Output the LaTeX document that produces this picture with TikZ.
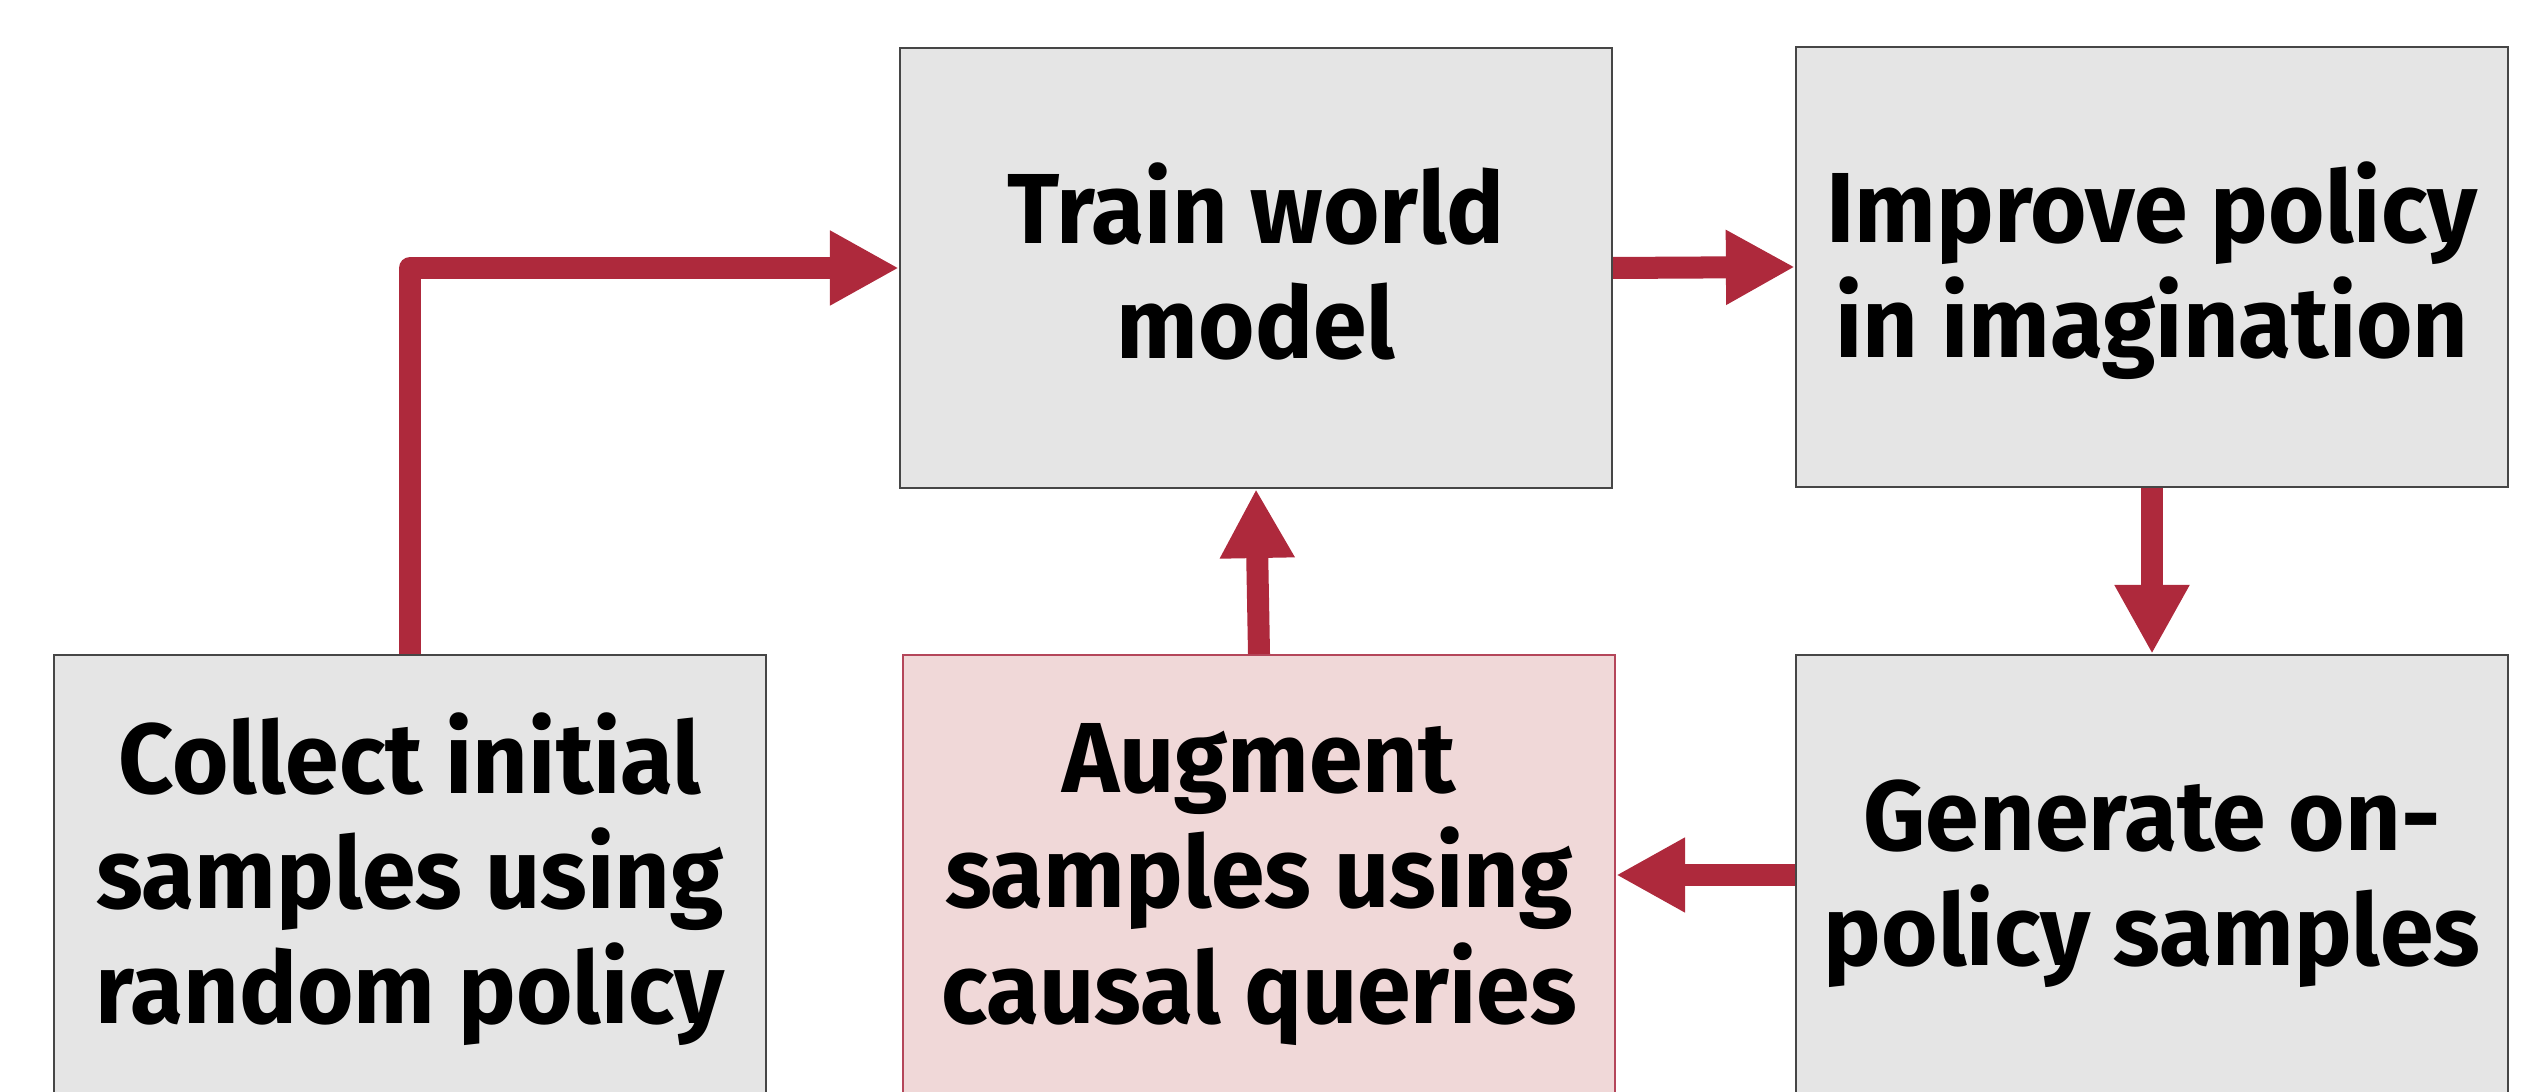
\documentclass[tikz,border=0pt]{standalone}
\usepackage{fontspec}
\setmainfont{Fira Sans}
\usetikzlibrary{arrows.meta}
\definecolor{arrowred}{RGB}{174,41,60}
\definecolor{boxgray}{RGB}{229,229,229}
\definecolor{boxedge}{RGB}{70,70,70}
\definecolor{pinkfill}{RGB}{240,216,216}
\definecolor{pinkedge}{RGB}{180,70,90}
\newcommand{\boxtext}[1]{\raisebox{0pt}[\dimexpr\height+0.2cm\relax][\depth]{\scalebox{1}[1.03]{\begin{tabular}{@{}c@{}}#1\end{tabular}}}}
\tikzset{
  stepbox/.style={draw=boxedge, line width=0.5pt, fill=boxgray, minimum width=7.12cm, minimum height=4.40cm,
    inner sep=0pt, align=center, font=\fontsize{27.5}{31.6}\selectfont\bfseries},
  pinkbox/.style={stepbox, draw=pinkedge, fill=pinkfill},
  conn/.style={draw=arrowred, line width=0.22cm, line join=round,
    -{Triangle[length=0.69cm, width=0.70cm]}}
}
\begin{document}
\begin{tikzpicture}[x=0.01cm, y=-0.01cm]
  \useasboundingbox (0,0) rectangle (2524,1092);
  \node[stepbox] (train) at (1256,268) {\boxtext{Train world\\model}};
  \node[stepbox] (improve) at (2152,267) {\boxtext{Improve policy\\in imagination}};
  \node[stepbox] (collect) at (410,875) {\boxtext{Collect initial\\samples using\\random policy}};
  \node[pinkbox] (augment) at (1259,875) {\boxtext{Augment\\samples using\\causal queries}};
  \node[stepbox] (generate) at (2152,875) {\boxtext{Generate on-\\policy samples}};
  \draw[conn] (collect.north) |- (train.west);
  \draw[conn] (train.east) -- (improve.west);
  \draw[conn] (improve.south) -- (generate.north);
  \draw[conn] (generate.west) -- (augment.east);
  \draw[conn] (augment.north) -- (train.south);
\end{tikzpicture}
\end{document}
